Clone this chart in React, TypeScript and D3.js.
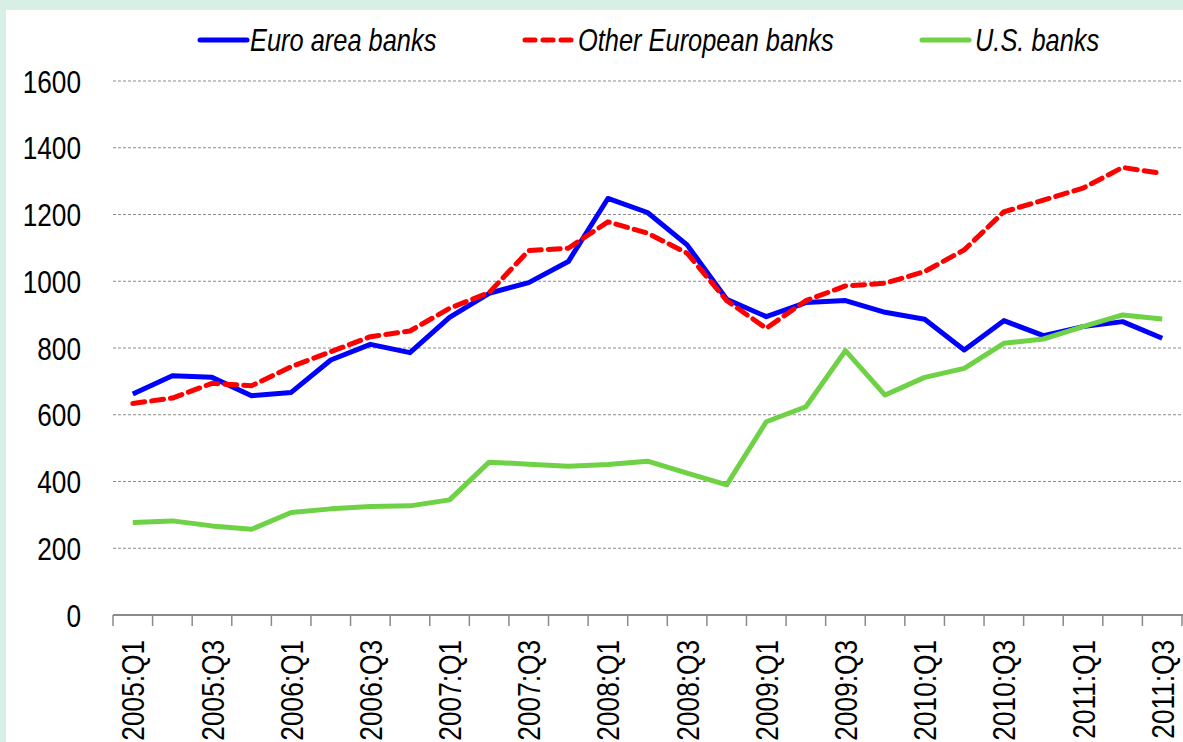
import React from "react"
import * as d3 from "d3"

const quarters = [
  "2005:Q1", "2005:Q2", "2005:Q3", "2005:Q4",
  "2006:Q1", "2006:Q2", "2006:Q3", "2006:Q4",
  "2007:Q1", "2007:Q2", "2007:Q3", "2007:Q4",
  "2008:Q1", "2008:Q2", "2008:Q3", "2008:Q4",
  "2009:Q1", "2009:Q2", "2009:Q3", "2009:Q4",
  "2010:Q1", "2010:Q2", "2010:Q3", "2010:Q4",
  "2011:Q1", "2011:Q2", "2011:Q3",
]

const euroArea = [
  662, 717, 712, 657, 667, 764, 811, 786, 892, 964, 996, 1059, 1248, 1206,
  1109, 946, 894, 936, 942, 907, 886, 794, 882, 837, 864, 879, 829,
]

const otherEuropean = [
  634, 650, 694, 687, 744, 789, 834, 851, 919, 966, 1092, 1099, 1178, 1144,
  1084, 942, 859, 942, 986, 994, 1029, 1094, 1208, 1243, 1279, 1341, 1323,
]

const usBanks = [
  277, 282, 267, 257, 307, 318, 325, 327, 345, 458, 452, 446, 451, 461,
  425, 390, 579, 624, 792, 659, 712, 739, 814, 827, 864, 899, 887,
]

const yTicks = [0, 200, 400, 600, 800, 1000, 1200, 1400, 1600]

const series = [
  { name: "Euro area banks", values: euroArea, color: "#0000ff", dash: "none" },
  { name: "Other European banks", values: otherEuropean, color: "#ff0000", dash: "12,7" },
  { name: "U.S. banks", values: usBanks, color: "#6fd145", dash: "none" },
]

const W = 1183
const H = 742
// Arial Narrow look: Liberation Sans squeezed horizontally
const FONT = "'Liberation Sans', Arial, sans-serif"
const NARROW = 0.82

export default function App() {
  const x = d3.scaleBand().domain(quarters).range([113, 1182])
  const y = d3.scaleLinear().domain([0, 1600]).range([615, 81])
  const cx = (q: string) => (x(q) || 0) + x.bandwidth() / 2

  const line = (vals: number[]) =>
    d3.line<number>()
      .x((_, i) => cx(quarters[i]))
      .y((d) => y(d))(vals) || ""

  const boundaries = d3.range(quarters.length + 1).map((i) => 113 + i * x.step())

  const legend = [
    { lx: 200, tx: 250 },
    { lx: 525, tx: 578 },
    { lx: 922, tx: 975 },
  ]

  return (
    <div style={{ position: "fixed", left: 0, top: 0, width: W, height: H, overflow: "hidden" }}>
      <svg width={W} height={H} style={{ display: "block" }} fontFamily={FONT}>
        <rect x={0} y={0} width={W} height={H} fill="#d8efe6" />
        <rect x={6} y={10} width={W - 6} height={H - 10} fill="#ffffff" />

        {yTicks.filter((t) => t > 0).map((t) => (
          <line key={t} x1={113} x2={W} y1={y(t)} y2={y(t)}
            stroke="#8a8a8a" strokeWidth={1} strokeDasharray="3,2" />
        ))}

        {yTicks.map((t) => (
          <text key={t} transform={`translate(81,${y(t)}) scale(${NARROW},1)`}
            dy="0.36em" textAnchor="end" fontSize={32} fill="#000">
            {t}
          </text>
        ))}

        <line x1={113} x2={W} y1={y(0)} y2={y(0)} stroke="#8a8a8a" strokeWidth={2} />
        {boundaries.map((bx, i) => (
          <line key={i} x1={bx} x2={bx} y1={y(0)} y2={y(0) + 11} stroke="#8a8a8a" strokeWidth={1.5} />
        ))}

        {quarters.filter((_, i) => i % 2 === 0).map((q) => (
          <text key={q} transform={`translate(${cx(q)},640) rotate(-90) scale(${NARROW},1)`}
            dy="0.36em" textAnchor="end" fontSize={32} fill="#000">
            {q}
          </text>
        ))}

        {series.map((s) => (
          <path key={s.name} d={line(s.values)} fill="none" stroke={s.color}
            strokeWidth={5} strokeDasharray={s.dash} strokeLinejoin="round"
            strokeLinecap={s.dash === "none" ? "butt" : "round"} />
        ))}

        {series.map((s, i) => (
          <g key={s.name}>
            <line x1={legend[i].lx} x2={legend[i].lx + 47} y1={40} y2={40}
              stroke={s.color} strokeWidth={5} strokeLinecap="round"
              strokeDasharray={s.dash === "none" ? "none" : "10,8"} />
            <text transform={`translate(${legend[i].tx},51) scale(${NARROW},1)`}
              fontSize={31} fontStyle="italic" fill="#000">
              {s.name}
            </text>
          </g>
        ))}
      </svg>
    </div>
  )
}
